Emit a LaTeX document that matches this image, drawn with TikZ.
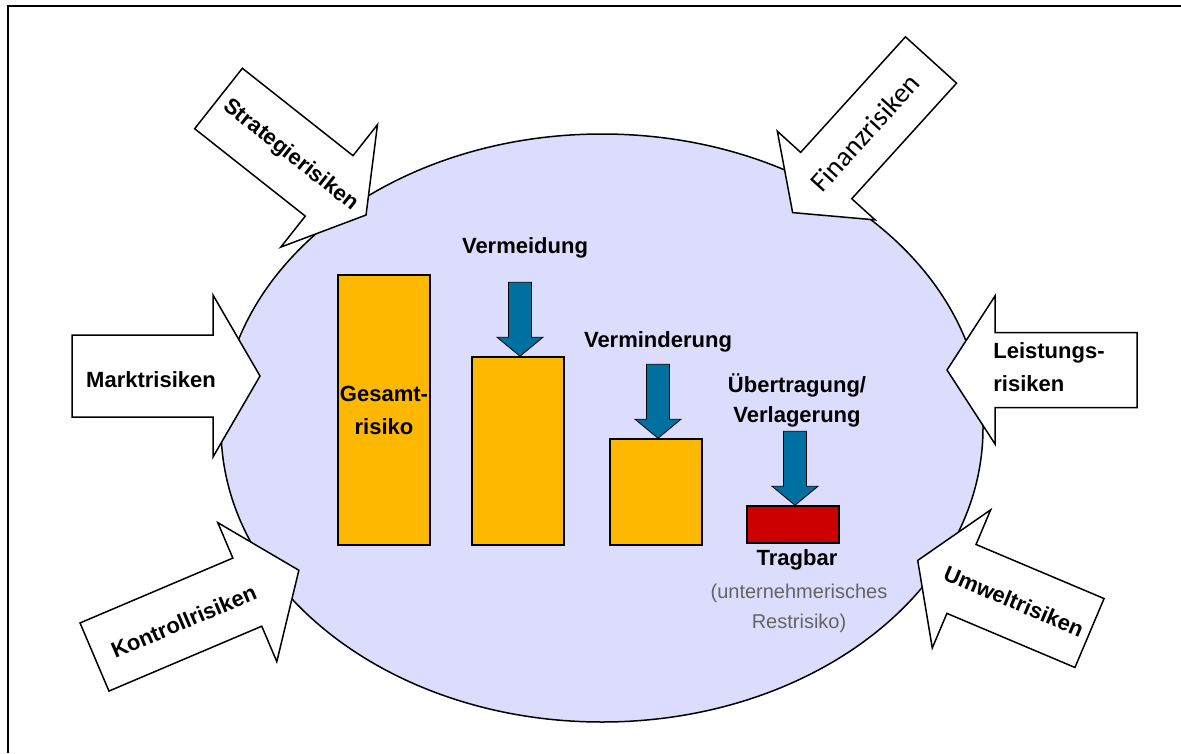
\documentclass[tikz,border=0pt]{standalone}
\usepackage{fontspec}
\setmainfont{Liberation Sans}
\newfontfamily\calibrifont{Carlito}
\usepackage{tikz}

\definecolor{ellipsefill}{RGB}{220,220,252}
\definecolor{barorange}{RGB}{255,184,0}
\definecolor{barred}{RGB}{204,0,0}
\definecolor{arrowblue}{RGB}{0,112,160}
\definecolor{textgray}{RGB}{100,100,100}

\tikzset{
	riskarrow/.style={draw=black, fill=white, line width=1.5pt, line join=miter},
	risklabel/.style={font=\fontsize{22}{33}\selectfont\bfseries, inner sep=0pt},
	bar/.style={draw=black, line width=1.5pt, minimum width=92pt, inner sep=0pt},
	bluearrow/.style={draw=black, fill=arrowblue, line width=0.8pt},
	steplabel/.style={font=\fontsize{22}{30}\selectfont\bfseries, align=center, inner sep=0pt}
}

\begin{document}
\begin{tikzpicture}[x=1pt,y=-1pt]
	\useasboundingbox (0,0) rectangle (1181,753);
	% Rahmen (oben und links)
	\draw[line width=2.5pt] (8,753) -- (8,6) -- (1181,6);

	% Unternehmen
	\draw[fill=ellipsefill, line width=1.5pt] (602,428) ellipse [x radius=381pt, y radius=294pt];

	% Risiken von aussen
	%Strategierisiken
	\begin{scope}[shift={(218.5,98.5)}, rotate=-38.3]
		\draw[riskarrow] (0,-38.5) -- (141,-38.5) -- (141,-78) -- (188,0) -- (141,78) -- (141,38.5) -- (0,38.5) -- cycle;
		\node[risklabel, rotate=-38.3] (strategie) at (92,0) {Strategierisiken};
	\end{scope}
	%Marktrisiken
	\begin{scope}[shift={(72,376)}]
		\draw[riskarrow] (0,-41) -- (141,-41) -- (141,-81) -- (188,0) -- (141,81) -- (141,41) -- (0,41) -- cycle;
		\node[risklabel] (markt) at (79,4) {Marktrisiken};
	\end{scope}
	%Kontrollrisiken
	\begin{scope}[shift={(94.5,657)}, rotate=23]
		\draw[riskarrow] (0,-37) -- (166,-37) -- (166,-75.5) -- (222,0) -- (166,75.5) -- (166,37) -- (0,37) -- cycle;
		\node[risklabel, rotate=23] (kontroll) at (96,2) {Kontrollrisiken};
	\end{scope}
	%Finanzrisiken
	\begin{scope}[shift={(931,60)}, rotate=-132.2]
		\draw[riskarrow] (0,-34.5) -- (156,-34.5) -- (156,-66) -- (206,0) -- (156,66) -- (156,34.5) -- (0,34.5) -- cycle;
		\node[risklabel, font=\calibrifont\fontsize{28}{30}\selectfont, rotate=47.8] (finanz) at (98,0) {Finanzrisiken};
	\end{scope}
	%Leistungsrisiken
	\begin{scope}[shift={(1137,370)}, rotate=180]
		\draw[riskarrow] (0,-37.5) -- (142,-37.5) -- (142,-74) -- (190,0) -- (142,74) -- (142,37.5) -- (0,37.5) -- cycle;
		\node[risklabel, align=left] (leistung) at (88,3) {Leistungs-\\risiken};
	\end{scope}
	%Umweltrisiken
	\begin{scope}[shift={(1089.5,633)}, rotate=157.1]
		\draw[riskarrow] (0,-37.4) -- (139,-37.4) -- (139,-75) -- (186.5,0) -- (139,75) -- (139,37.4) -- (0,37.4) -- cycle;
		\node[risklabel, rotate=-22.9] (umwelt) at (82,0) {Umweltrisiken};
	\end{scope}

	% Balken
	\node[bar, fill=barorange, minimum height=270pt, font=\fontsize{22}{33}\selectfont\bfseries, align=center] (gesamt) at (384,410) {Gesamt-\\risiko};
	\node[bar, fill=barorange, minimum height=188pt] (vermeidungbar) at (518,451) {};
	\node[bar, fill=barorange, minimum height=106pt] (verminderungbar) at (656,492) {};
	\node[bar, fill=barred, minimum height=37pt] (tragbarbar) at (793,524.5) {};

	% Massnahmen
	\foreach \b in {vermeidungbar,verminderungbar,tragbarbar}
		\draw[bluearrow] ([xshift=2pt]\b.north) -- ++(23,-19) -- ++(-11.5,0) -- ++(0,-55) -- ++(-23,0) -- ++(0,55) -- ++(-11.5,0) -- cycle;

	\node[steplabel] (vermeidung) at (525,248) {Vermeidung};
	\node[steplabel] (verminderung) at (658,342) {Verminderung};
	\node[steplabel] (uebertragung) at (797,400) {Übertragung/\\Verlagerung};
	\node[steplabel] (tragbar) at (797,560) {Tragbar};
	\node[font=\fontsize{20}{30}\selectfont, text=textgray, align=center, inner sep=0pt] (restrisiko) at (799,608) {(unternehmerisches\\Restrisiko)};

\end{tikzpicture}
\end{document}
